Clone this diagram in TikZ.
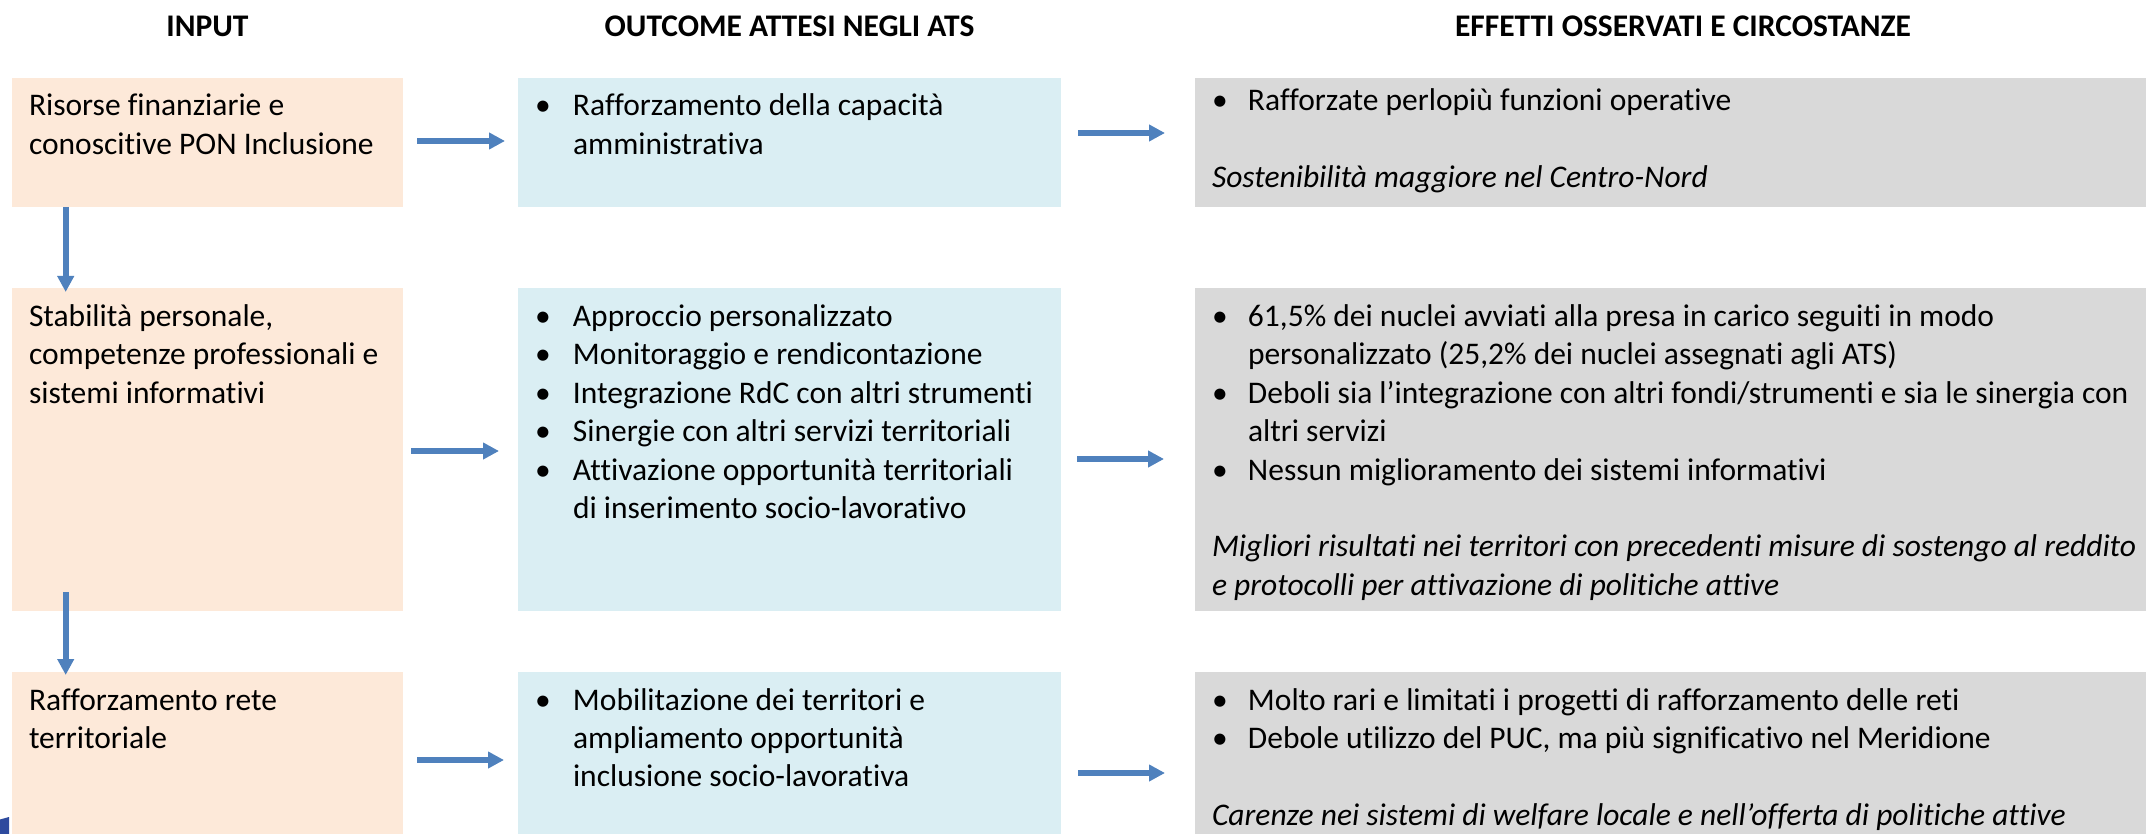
\documentclass[tikz,border=0pt]{standalone}
\usepackage{fontspec}
\setmainfont{Carlito}[Ligatures={NoCommon}]
\usetikzlibrary{arrows.meta}
\definecolor{inpfill}{HTML}{FDE9D9}
\definecolor{outfill}{HTML}{DAEEF3}
\definecolor{efffill}{HTML}{D9D9D9}
\definecolor{arrblue}{HTML}{4F81BD}
\definecolor{logoblue}{HTML}{2E4A9E}
\newcommand\myb[2][38pt]{\hbox{\hbox to #1{\textbullet\hss}#2}}
\newcommand\mycont[2][38pt]{\hbox{\hskip#1 #2}}
\newcommand\myline[1]{\hbox{#1}}
\newcommand\myit[1]{\hbox{\itshape #1}}
\tikzset{
  box/.style={rectangle, inner sep=0pt, outer sep=0pt, anchor=north west, draw=none},
  inbox/.style={box, fill=inpfill},
  outbox/.style={box, fill=outfill},
  effbox/.style={box, fill=efffill},
  txt/.style={inner sep=0pt, outer sep=0pt, anchor=base west, font=\fontsize{31.5}{38.4}\selectfont},
  head/.style={inner sep=0pt, outer sep=0pt, anchor=base, font=\fontsize{31.5}{38.4}\selectfont\bfseries},
  arr/.style={draw=arrblue, line width=6pt, -{Triangle[length=16pt,width=16pt]}}
}
\begin{document}
\begin{tikzpicture}[x=1pt,y=-1pt]
\useasboundingbox (0,0) rectangle (2146,834);
\clip (0,0) rectangle (2146,834);
\fill[white] (0,0) rectangle (2146,834);
% headers
\node[head] (h1) at (207.5,37) {INPUT};
\node[head] (h2) at (789.5,37) {OUTCOME ATTESI NEGLI ATS};
\node[head] (h3) at (1683,37) {EFFETTI OSSERVATI E CIRCOSTANZE};
% row 1 boxes
\node[inbox, minimum width=391pt, minimum height=129pt] (in1) at (12,78) {};
\node[outbox, minimum width=543pt, minimum height=129pt] (out1) at (518,78) {};
\node[effbox, minimum width=976pt, minimum height=129pt] (eff1) at (1195,78) {};
% row 2 boxes
\node[inbox, minimum width=391pt, minimum height=323pt] (in2) at (12,288) {};
\node[outbox, minimum width=543pt, minimum height=323pt] (out2) at (518,288) {};
\node[effbox, minimum width=976pt, minimum height=323pt] (eff2) at (1195,288) {};
% row 3 boxes
\node[inbox, minimum width=391pt, minimum height=176pt] (in3) at (12,672) {};
\node[outbox, minimum width=543pt, minimum height=176pt] (out3) at (518,672) {};
\node[effbox, minimum width=976pt, minimum height=176pt] (eff3) at (1195,672) {};
% texts row 1
\node[txt] (tin1) at (29,116) {\vtop{\myline{Risorse finanziarie e}\myline{conoscitive PON Inclusione}}};
\node[txt] (tout1) at (535,116) {\vtop{\myb{Rafforzamento della capacità}\mycont{amministrativa}}};
\node[txt] (teff1) at (1212,110.5) {\vtop{\myb[36pt]{Rafforzate perlopiù funzioni operative}\hbox{}\myit{Sostenibilità maggiore nel Centro-Nord}}};
% texts row 2
\node[txt] (tin2) at (29,326.5) {\vtop{\myline{Stabilità personale,}\myline{competenze professionali e}\myline{sistemi informativi}}};
\node[txt] (tout2) at (535,326.5) {\vtop{\myb{Approccio personalizzato}\myb{Monitoraggio e rendicontazione}\myb{Integrazione RdC con altri strumenti}\myb{Sinergie con altri servizi territoriali}\myb{Attivazione opportunità territoriali}\mycont{di inserimento socio-lavorativo}}};
\node[txt] (teff2) at (1212,326.5) {\vtop{\myb[36pt]{61,5\% dei nuclei avviati alla presa in carico seguiti in modo}\mycont[36pt]{personalizzato (25,2\% dei nuclei assegnati agli ATS)}\myb[36pt]{Deboli sia l’integrazione con altri fondi/strumenti e sia le sinergia con}\mycont[36pt]{altri servizi}\myb[36pt]{Nessun miglioramento dei sistemi informativi}\hbox{}\myit{Migliori risultati nei territori con precedenti misure di sostengo al reddito}\myit{e protocolli per attivazione di politiche attive}}};
% texts row 3
\node[txt] (tin3) at (29,710) {\vtop{\myline{Rafforzamento rete}\myline{territoriale}}};
\node[txt] (tout3) at (535,710) {\vtop{\myb{Mobilitazione dei territori e}\mycont{ampliamento opportunità}\mycont{inclusione socio-lavorativa}}};
\node[txt] (teff3) at (1212,710) {\vtop{\myb[36pt]{Molto rari e limitati i progetti di rafforzamento delle reti}\myb[36pt]{Debole utilizzo del PUC, ma più significativo nel Meridione}\hbox{}\myit{Carenze nei sistemi di welfare locale e nell’offerta di politiche attive}}};
% horizontal arrows
\draw[arr, shorten <=14pt, shorten >=13pt] ([yshift=1.5pt]in1.east) -- ([yshift=1.5pt]out1.west);
\draw[arr, shorten <=17pt, shorten >=30pt] ([yshift=9.5pt]out1.east) -- ([yshift=9.5pt]eff1.west);
\draw[arr, shorten <=8pt, shorten >=19pt] ([yshift=-1.5pt]in2.east) -- ([yshift=-1.5pt]out2.west);
\draw[arr, shorten <=16pt, shorten >=31pt] ([yshift=-9.5pt]out2.east) -- ([yshift=-9.5pt]eff2.west);
\draw[arr, shorten <=14pt, shorten >=14pt] (in3.east) -- (out3.west);
\draw[arr, shorten <=17pt, shorten >=30pt] ([yshift=-13pt]out3.east) -- ([yshift=-13pt]eff3.west);
% vertical arrows
\draw[arr, shorten >=-4pt] ([xshift=53.7pt]in1.south west) -- ([xshift=53.7pt]in2.north west);
\draw[arr, shorten <=-19pt, shorten >=-3pt] ([xshift=53.7pt]in2.south west) -- ([xshift=53.7pt]in3.north west);
% logo fragment
\fill[logoblue] (0,819.5) -- (9,817) -- (9,834) -- (0,834) -- cycle;
\end{tikzpicture}
\end{document}
